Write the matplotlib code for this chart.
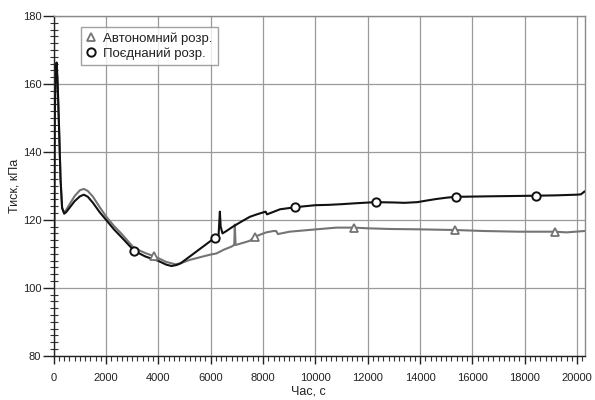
import matplotlib
matplotlib.use("Agg")
import matplotlib.pyplot as plt
from matplotlib.ticker import MultipleLocator
from matplotlib.lines import Line2D

plt.rcParams['font.family'] = ['Liberation Sans', 'DejaVu Sans']

# Combined calculation ("Поєднаний розр.")
t_comb = [0, 15, 40, 70, 110, 150, 200, 260, 320, 400, 480, 600, 800, 1000, 1150, 1300, 1500,
          1750, 2000, 2300, 2600, 3070, 3500, 4000, 4300, 4500, 4700, 4850, 5200, 5600, 6000,
          6150, 6300, 6350, 6380, 6450, 6600, 6850, 7200, 7500, 7800, 8100, 8150, 8250, 8650,
          9230, 9600, 10000, 10500, 11000, 11600, 12300, 13000, 13400, 13900, 14200, 14600,
          15000, 15370, 15700, 16500, 17500, 18450, 19200, 20000, 20150, 20280]
p_comb = [99, 110, 150, 163, 166.3, 160, 148, 132, 123.5, 121.8, 122.3, 123.5, 125.5, 126.9,
          127.4, 126.8, 125.0, 122.3, 120.0, 117.2, 114.8, 110.9, 109.2, 107.9, 106.8, 106.4,
          106.7, 107.2, 109.2, 111.5, 113.8, 114.7, 115.5, 122.4, 118.0, 116.0, 116.7, 118.0,
          119.6, 120.9, 121.7, 122.4, 121.6, 121.9, 123.1, 123.7, 124.0, 124.3, 124.4, 124.6,
          124.9, 125.2, 125.1, 125.0, 125.2, 125.6, 126.1, 126.5, 126.8, 126.8, 126.9, 127.0,
          127.1, 127.2, 127.4, 127.5, 128.3]

# Autonomous calculation ("Автономний розр.")
t_auto = [0, 15, 40, 70, 110, 150, 200, 260, 320, 380, 450, 600, 800, 1000, 1150, 1300, 1500,
          1750, 2000, 2300, 2600, 3070, 3500, 3830, 4000, 4300, 4650, 4850, 5200, 5600, 5955,
          6220, 6500, 6790, 6900, 6920, 6950, 7050, 7490, 7680, 8120, 8400, 8500, 8570, 9010,
          10040, 10800, 11470, 12000, 12840, 13920, 15320, 16460, 17800, 19160, 19600, 20280]
p_auto = [99, 110, 150, 163, 166, 160, 148, 132, 123.5, 122.4, 122.6, 124.5, 127.0, 128.7,
          129.1, 128.5, 126.8, 123.8, 121.0, 118.2, 115.8, 111.7, 110.2, 109.3, 108.7, 107.6,
          106.9, 107.2, 108.2, 109.0, 109.7, 110.1, 111.2, 112.1, 112.6, 118.6, 112.6, 112.8,
          113.8, 115.0, 116.3, 116.7, 116.7, 115.8, 116.5, 117.2, 117.7, 117.7, 117.5, 117.3,
          117.2, 117.0, 116.7, 116.5, 116.5, 116.3, 116.7]

# Marker positions
t_circ = [3070, 6150, 9230, 12300, 15370, 18450]
p_circ = [110.9, 114.7, 123.7, 125.2, 126.8, 127.1]
t_tri = [3830, 7680, 11470, 15320, 19160]
p_tri = [109.3, 115.0, 117.7, 117.0, 116.5]

labels = ['Автономний розр.', 'Поєднаний розр.']
c_black = '#111111'
c_gray = '#747474'

fig = plt.figure(figsize=(5.95, 4.0), dpi=100)
ax = fig.add_axes([0.0903, 0.1108, 0.8927, 0.8492])

ax.plot(t_auto, p_auto, color=c_gray, lw=1.5, zorder=3)
ax.plot(t_comb, p_comb, color=c_black, lw=1.5, zorder=4)
ax.plot(t_tri, p_tri, ls='none', marker='^', ms=6, mfc='white', mec=c_gray, mew=1.3, zorder=5)
ax.plot(t_circ, p_circ, ls='none', marker='o', ms=6, mfc='white', mec=c_black, mew=1.4, zorder=6)

ax.set_xlim(0, 20300)
ax.set_ylim(80, 180)
ax.xaxis.set_major_locator(MultipleLocator(2000))
ax.xaxis.set_minor_locator(MultipleLocator(200))
ax.yaxis.set_major_locator(MultipleLocator(20))
ax.yaxis.set_minor_locator(MultipleLocator(2))
ax.grid(True, which='major', color='#9a9a9a', lw=0.9)
ax.set_axisbelow(True)

ax.tick_params(axis='x', which='major', direction='out', length=6, width=1, labelsize=8,
               colors='#222222', pad=6.5)
ax.tick_params(axis='x', which='minor', direction='out', length=3.5, width=0.8, colors='#333333')
ax.tick_params(axis='y', which='major', direction='out', length=8, width=1, labelsize=8,
               colors='#222222', pad=1)
ax.tick_params(axis='y', which='minor', direction='inout', length=6, width=0.8, colors='#333333')
for s in ['left', 'bottom']:
    ax.spines[s].set_color('#222222')
    ax.spines[s].set_linewidth(1.0)
for s in ['top', 'right']:
    ax.spines[s].set_color('#8a8a8a')
    ax.spines[s].set_linewidth(1.0)

ax.set_xlabel('Час, с', fontsize=9, color='#222222')
ax.set_ylabel('Тиск, кПа', fontsize=9, color='#222222')
ax.xaxis.set_label_coords(0.48, -0.088)
ax.yaxis.set_label_coords(-0.063, 0.5)

handles = [Line2D([], [], ls='none', marker='^', ms=6, mfc='white', mec=c_gray, mew=1.3),
           Line2D([], [], ls='none', marker='o', ms=6, mfc='white', mec=c_black, mew=1.4)]
leg = ax.legend(handles, labels, loc='upper left', bbox_to_anchor=(0.051, 0.968),
                borderaxespad=0, fontsize=9.5, frameon=True, fancybox=False,
                handlelength=0.8, handletextpad=0.5, borderpad=0.4, labelspacing=0.2)
leg.get_frame().set_edgecolor('#8a8a8a')
leg.get_frame().set_linewidth(1.0)
for txt in leg.get_texts():
    txt.set_color('#222222')

fig.savefig('out.png', dpi=100)
